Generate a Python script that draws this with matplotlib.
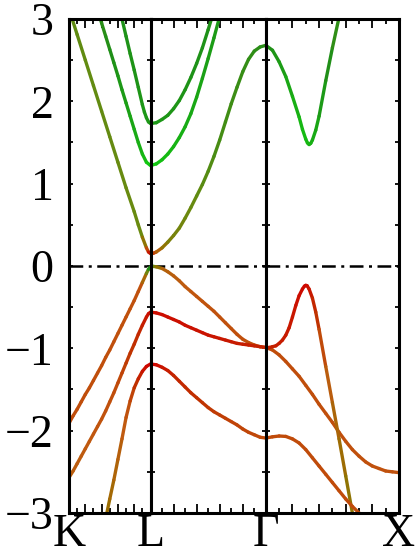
import matplotlib.pyplot as plt
import numpy as np
from matplotlib.collections import LineCollection
from matplotlib.colors import LinearSegmentedColormap
from matplotlib.ticker import MultipleLocator

plt.rcParams['font.family'] = ['Liberation Serif', 'DejaVu Serif']

# k-path K-L-G-X, segment lengths in 2pi/a
seg_len = [0.612, 0.866, 1.0]
k_labels = ['K', 'L', 'Γ', 'X']

# path coordinate: K=0, L=1, Gamma=2, X=3 ; energies in eV
c1_k = [0, 0.1, 0.2, 0.3, 0.4, 0.5, 0.6, 0.7, 0.8, 0.85, 0.9, 0.95, 0.975, 1.0,
        1.025, 1.05, 1.1, 1.15, 1.2, 1.25, 1.3, 1.35, 1.4, 1.45, 1.5, 1.55, 1.6,
        1.65, 1.7, 1.75, 1.8, 1.85, 1.9, 1.95, 2.0,
        2.05, 2.1, 2.15, 2.2, 2.25, 2.275, 2.3, 2.3125, 2.325, 2.3375, 2.35, 2.375,
        2.4, 2.45, 2.5, 2.55, 2.6]
c1_e = [3.12, 2.81, 2.50, 2.19, 1.88, 1.57, 1.26, 0.95, 0.66, 0.50, 0.35, 0.22, 0.17, 0.15,
        0.155, 0.17, 0.22, 0.29, 0.37, 0.46, 0.58, 0.71, 0.85, 0.99, 1.15, 1.33, 1.53,
        1.75, 1.97, 2.17, 2.36, 2.51, 2.61, 2.66, 2.68,
        2.62, 2.48, 2.30, 2.06, 1.81, 1.66, 1.54, 1.495, 1.475, 1.49, 1.53, 1.65,
        1.82, 2.25, 2.65, 3.02, 3.4]

c2_k = [0.35, 0.4, 0.45, 0.5, 0.55, 0.6, 0.65, 0.7, 0.75, 0.8, 0.85, 0.9, 0.95, 1.0,
        1.05, 1.1, 1.15, 1.2, 1.25, 1.3, 1.35, 1.4, 1.45, 1.5, 1.55, 1.6, 1.65]
c2_e = [3.11, 2.95, 2.79, 2.63, 2.47, 2.31, 2.14, 1.98, 1.82, 1.66, 1.50, 1.36, 1.26, 1.22,
        1.24, 1.29, 1.36, 1.45, 1.56, 1.69, 1.85, 2.05, 2.28, 2.52, 2.77, 3.03, 3.3]

c3_k = [0.6, 0.65, 0.7, 0.75, 0.8, 0.85, 0.9, 0.925, 0.95, 0.975, 1.0,
        1.05, 1.1, 1.15, 1.2, 1.25, 1.3, 1.35, 1.4, 1.45, 1.5, 1.55, 1.6]
c3_e = [3.2, 3.0, 2.79, 2.58, 2.38, 2.17, 1.96, 1.87, 1.80, 1.75, 1.73,
        1.74, 1.78, 1.83, 1.91, 2.01, 2.14, 2.29, 2.46, 2.65, 2.87, 3.1, 3.35]

v1_k = [0, 0.05, 0.1, 0.15, 0.2, 0.25, 0.3, 0.35, 0.4, 0.45, 0.5, 0.55, 0.6, 0.65,
        0.7, 0.75, 0.8, 0.85, 0.9, 0.95, 0.975, 1.0,
        1.025, 1.05, 1.1, 1.15, 1.2, 1.25, 1.3, 1.35, 1.4, 1.45, 1.5, 1.55, 1.6,
        1.65, 1.7, 1.75, 1.8, 1.85, 1.9, 1.95, 2.0,
        2.05, 2.1, 2.15, 2.2, 2.25, 2.3, 2.35, 2.4, 2.45, 2.5, 2.55, 2.6, 2.65,
        2.7, 2.75, 2.8, 2.85, 2.9, 2.95, 3.0]
v1_e = [-1.91, -1.82, -1.74, -1.65, -1.56, -1.48, -1.39, -1.30, -1.21, -1.11, -1.02,
        -0.92, -0.82, -0.72, -0.62, -0.52, -0.42, -0.31, -0.20, -0.09, -0.04, -0.01,
        -0.005, -0.01, -0.03, -0.07, -0.12, -0.18, -0.25, -0.31, -0.37, -0.43, -0.49,
        -0.55, -0.62, -0.69, -0.76, -0.83, -0.89, -0.93, -0.96, -0.98, -0.99,
        -1.02, -1.08, -1.16, -1.25, -1.34, -1.45, -1.56, -1.68, -1.79, -1.90, -2.02,
        -2.13, -2.23, -2.31, -2.38, -2.43, -2.46, -2.49, -2.50, -2.51]

v2_k = [0, 0.05, 0.1, 0.15, 0.2, 0.25, 0.3, 0.35, 0.4, 0.45, 0.5, 0.55, 0.6, 0.65,
        0.7, 0.75, 0.8, 0.85, 0.9, 0.95, 0.975, 1.0,
        1.05, 1.1, 1.15, 1.2, 1.25, 1.3, 1.35, 1.4, 1.45, 1.5, 1.55, 1.6, 1.65,
        1.7, 1.75, 1.8, 1.85, 1.9, 1.95, 2.0,
        2.025, 2.05, 2.075, 2.1, 2.125, 2.15, 2.175, 2.2, 2.225, 2.25, 2.275, 2.29,
        2.3, 2.31, 2.325, 2.35, 2.375, 2.4, 2.45, 2.5, 2.55, 2.6, 2.65, 2.7]
v2_e = [-2.57, -2.49, -2.40, -2.31, -2.22, -2.13, -2.04, -1.95, -1.86, -1.76, -1.65,
        -1.54, -1.42, -1.30, -1.18, -1.06, -0.95, -0.83, -0.72, -0.62, -0.58, -0.56,
        -0.57, -0.59, -0.62, -0.65, -0.68, -0.72, -0.75, -0.78, -0.81, -0.84, -0.86,
        -0.88, -0.90, -0.92, -0.94, -0.95, -0.96, -0.97, -0.98, -0.99,
        -0.99, -0.98, -0.97, -0.94, -0.90, -0.84, -0.75, -0.62, -0.48, -0.36, -0.28,
        -0.245, -0.235, -0.24, -0.28, -0.39, -0.56, -0.77, -1.22, -1.66, -2.10, -2.55,
        -3.0, -3.45]

v3_k = [0.45, 0.5, 0.55, 0.6, 0.65, 0.7, 0.75, 0.8, 0.85, 0.9, 0.95, 1.0,
        1.05, 1.1, 1.15, 1.2, 1.25, 1.3, 1.35, 1.4, 1.45, 1.5, 1.55, 1.6, 1.65,
        1.7, 1.75, 1.8, 1.85, 1.9, 1.95, 2.0,
        2.05, 2.1, 2.15, 2.2, 2.25, 2.3, 2.35, 2.4, 2.45, 2.5, 2.55, 2.6, 2.65,
        2.7, 2.75]
v3_e = [-3.07, -2.83, -2.60, -2.35, -2.10, -1.84, -1.64, -1.48, -1.37, -1.28, -1.22, -1.19,
        -1.20, -1.23, -1.27, -1.33, -1.40, -1.47, -1.54, -1.60, -1.66, -1.72, -1.77,
        -1.81, -1.85, -1.89, -1.93, -1.98, -2.02, -2.05, -2.08, -2.09,
        -2.075, -2.065, -2.07, -2.10, -2.15, -2.23, -2.33, -2.43, -2.53, -2.63, -2.73,
        -2.83, -2.92, -3.0, -3.08]

# orbital character along each band (0 = red, 1 = green)
character = {
    'c1': ([0, 0.9, 0.95, 1.0, 1.05, 1.15, 1.6, 2.0, 2.3, 2.6],
           [0.68, 0.65, 0.4, 0.0, 0.35, 0.58, 0.74, 0.82, 0.95, 0.75]),
    'c2': ([0.35, 0.9, 1.0, 1.1, 1.65], [0.8, 0.92, 1.0, 0.95, 0.85]),
    'c3': ([0.6, 1.0, 1.6], [0.84, 0.86, 0.84]),
    'v1': ([0, 0.9, 0.96, 1.0, 1.04, 1.12, 1.4, 2.0, 3.0],
           [0.3, 0.32, 0.6, 0.95, 0.6, 0.4, 0.33, 0.3, 0.32]),
    'v2': ([0, 0.6, 0.9, 1.0, 1.5, 2.0, 2.2, 2.3, 2.45, 2.65],
           [0.38, 0.3, 0.15, 0.05, 0.08, 0.15, 0.1, 0.02, 0.35, 0.55]),
    'v3': ([0.45, 0.75, 0.9, 1.0, 1.2, 1.6, 2.0, 2.75],
           [0.5, 0.3, 0.1, 0.0, 0.15, 0.25, 0.3, 0.3]),
}

bands = {'c1': (c1_k, c1_e), 'c2': (c2_k, c2_e), 'c3': (c3_k, c3_e),
         'v1': (v1_k, v1_e), 'v2': (v2_k, v2_e), 'v3': (v3_k, v3_e)}

cmap = LinearSegmentedColormap.from_list('rg', [
    (0.0, '#d00000'), (0.2, '#c03000'), (0.35, '#c05a10'), (0.5, '#967000'),
    (0.65, '#6a8a10'), (0.84, '#1f8f18'), (1.0, '#10d010')])

fig = plt.figure(figsize=(4.17, 5.55), dpi=100)
gs = fig.add_gridspec(1, 3, width_ratios=seg_len, wspace=0,
                      left=0.1655, right=0.9568, bottom=0.0757, top=0.9658)
axes = [fig.add_subplot(gs[0, i]) for i in range(3)]


def draw_band(name):
    k = np.asarray(bands[name][0])
    e = np.asarray(bands[name][1])
    wk, w = character[name]
    for i, ax in enumerate(axes):
        m = (k >= i - 1e-9) & (k <= i + 1 + 1e-9)
        if m.sum() < 2:
            continue
        pts = np.column_stack([k[m] - i, e[m]])
        segs = np.stack([pts[:-1], pts[1:]], axis=1)
        mid = (k[m][:-1] + k[m][1:]) / 2
        lc = LineCollection(segs, colors=cmap(np.interp(mid, wk, w)),
                            linewidths=2.4, capstyle='round', joinstyle='round')
        ax.add_collection(lc)


for name in bands:
    draw_band(name)

for i, ax in enumerate(axes):
    ax.set_xlim(0, 1)
    ax.set_ylim(-3, 3)
    ax.axhline(0, color='k', lw=1.8, ls=(0, (5.5, 2.2, 1.2, 2.2)), zorder=1)
    ax.set_xticks(np.arange(0, 1.01, 0.2))
    ax.set_xticks(np.arange(0.1, 1, 0.2), minor=True)
    ax.yaxis.set_major_locator(MultipleLocator(1))
    ax.yaxis.set_minor_locator(MultipleLocator(0.5))
    ax.tick_params(which='both', direction='in', top=True, bottom=True,
                   left=True, right=True, width=1.3, labelsize=33)
    ax.tick_params(axis='x', which='major', length=6.5, pad=0.5)
    ax.tick_params(axis='x', which='minor', length=3.6)
    ax.tick_params(axis='y', which='both', length=3, pad=11)
    xl = [''] * 6
    xl[0] = k_labels[i]
    if i == 2:
        xl[-1] = k_labels[3]
    ax.set_xticklabels(xl)
    if i > 0:
        ax.tick_params(labelleft=False)
    for s in ax.spines.values():
        s.set_linewidth(2.2)

fig.savefig('out.png', dpi=100)
